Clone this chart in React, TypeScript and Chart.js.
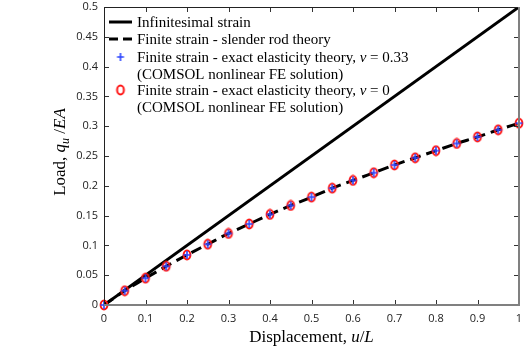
import React, { useEffect, useRef } from "react";
import { Chart, registerables } from "chart.js";
Chart.register(...registerables);

const displacement = [0, 0.05, 0.1, 0.15, 0.2, 0.25, 0.3, 0.35, 0.4, 0.45, 0.5, 0.55, 0.6, 0.65, 0.7, 0.75, 0.8, 0.85, 0.9, 0.95, 1.0];
const slenderRod = [0, 0.024, 0.045, 0.065, 0.084, 0.102, 0.12, 0.136, 0.152, 0.167, 0.181, 0.196, 0.209, 0.222, 0.235, 0.247, 0.259, 0.271, 0.282, 0.294, 0.305];
const comsolNu033 = [0, 0.024, 0.045, 0.065, 0.084, 0.102, 0.12, 0.136, 0.152, 0.167, 0.181, 0.196, 0.209, 0.222, 0.235, 0.247, 0.259, 0.271, 0.282, 0.294, 0.305];
const comsolNu0 = [0, 0.024, 0.045, 0.065, 0.084, 0.102, 0.12, 0.136, 0.152, 0.167, 0.181, 0.196, 0.209, 0.222, 0.235, 0.247, 0.259, 0.271, 0.282, 0.294, 0.305];
const infinitesimalX = [0, 1];
const infinitesimalY = [0, 0.5];

const xTickValues = [0, 0.1, 0.2, 0.3, 0.4, 0.5, 0.6, 0.7, 0.8, 0.9, 1];
const xTickLabels = ["0", "0.1", "0.2", "0.3", "0.4", "0.5", "0.6", "0.7", "0.8", "0.9", "1"];
const yTickValues = [0, 0.05, 0.1, 0.15, 0.2, 0.25, 0.3, 0.35, 0.4, 0.45, 0.5];
const yTickLabels = ["0", "0.05", "0.1", "0.15", "0.2", "0.25", "0.3", "0.35", "0.4", "0.45", "0.5"];

const legendLines = [
  "Infinitesimal strain",
  "Finite strain - slender rod theory",
  "Finite strain - exact elasticity theory, ",
  "(COMSOL nonlinear FE solution)",
  "Finite strain - exact elasticity theory, ",
  "(COMSOL nonlinear FE solution)",
];
const legendNu = ["", "", " = 0.33", "", " = 0", ""];

const SERIF = '"Liberation Serif", "Times New Roman", serif';
const SANS = '"Open Sans", "Noto Sans", sans-serif';
const BLUE = "rgb(45,70,255)";
const RED = "rgb(255,20,20)";

function makeCircle() {
  const c = document.createElement("canvas");
  c.width = 12; c.height = 12;
  const g = c.getContext("2d")!;
  g.strokeStyle = RED; g.lineWidth = 2;
  g.beginPath(); g.ellipse(6, 6, 3.4, 4.4, 0, 0, Math.PI * 2); g.stroke();
  return c;
}
function makeCross() {
  const c = document.createElement("canvas");
  c.width = 12; c.height = 12;
  const g = c.getContext("2d")!;
  g.strokeStyle = BLUE; g.lineWidth = 1.6;
  g.beginPath(); g.moveTo(2.5, 6); g.lineTo(9.5, 6); g.moveTo(6, 2); g.lineTo(6, 10); g.stroke();
  return c;
}

function drawRich(ctx: CanvasRenderingContext2D, parts: { t: string; f: string; dy?: number }[], x: number, y: number, align: "left" | "center") {
  let w = 0;
  for (const p of parts) { ctx.font = p.f; w += ctx.measureText(p.t).width; }
  let cx = align === "center" ? x - w / 2 : x;
  for (const p of parts) {
    ctx.font = p.f;
    ctx.fillText(p.t, cx, y + (p.dy || 0));
    cx += ctx.measureText(p.t).width;
  }
}

const zeroPad = (s: any) => { s.paddingTop = 0; s.paddingBottom = 0; s.paddingLeft = 0; s.paddingRight = 0; };

export default function App() {
  const ref = useRef<HTMLCanvasElement>(null);
  useEffect(() => {
    const circle = makeCircle();
    const cross = makeCross();
    const framePlugin = {
      id: "frame",
      afterDraw(chart: any) {
        const ctx: CanvasRenderingContext2D = chart.ctx;
        const a = chart.chartArea;
        const xs = chart.scales.x, ys = chart.scales.y;
        ctx.save();
        // inward ticks
        ctx.strokeStyle = "#333"; ctx.lineWidth = 1;
        ctx.beginPath();
        for (const v of xTickValues) {
          const px = Math.round(xs.getPixelForValue(v)) + 0.5;
          ctx.moveTo(px, a.bottom); ctx.lineTo(px, a.bottom - 5);
          ctx.moveTo(px, a.top); ctx.lineTo(px, a.top + 5);
        }
        for (const v of yTickValues) {
          const py = Math.round(ys.getPixelForValue(v)) + 0.5;
          ctx.moveTo(a.left, py); ctx.lineTo(a.left + 5, py);
          ctx.moveTo(a.right, py); ctx.lineTo(a.right - 5, py);
        }
        ctx.stroke();
        // frame
        ctx.strokeStyle = "#222"; ctx.lineWidth = 1;
        ctx.beginPath();
        ctx.moveTo(a.left + 0.5, a.bottom); ctx.lineTo(a.left + 0.5, a.top + 0.5); ctx.lineTo(a.right, a.top + 0.5);
        ctx.stroke();
        ctx.strokeStyle = "#808080"; ctx.lineWidth = 2;
        ctx.beginPath();
        ctx.moveTo(a.left, a.bottom); ctx.lineTo(a.right, a.bottom); ctx.lineTo(a.right, a.top);
        ctx.stroke();

        // legend
        ctx.fillStyle = "#000";
        ctx.textBaseline = "middle";
        const lx0 = a.left + 5, lx1 = a.left + 28, tx = a.left + 33;
        const rows = [22, 39, 57, 74, 90, 107];
        ctx.strokeStyle = "#000"; ctx.lineWidth = 3;
        ctx.beginPath(); ctx.moveTo(lx0, rows[0]); ctx.lineTo(lx1, rows[0]); ctx.stroke();
        ctx.setLineDash([9, 5]);
        ctx.beginPath(); ctx.moveTo(lx0, rows[1]); ctx.lineTo(lx1, rows[1]); ctx.stroke();
        ctx.setLineDash([]);
        ctx.drawImage(cross, (lx0 + lx1) / 2 - 6, rows[2] - 6);
        ctx.drawImage(circle, (lx0 + lx1) / 2 - 6, rows[4] - 6);
        const lf = `15px ${SERIF}`;
        const lfi = `italic 15px ${SERIF}`;
        legendLines.forEach((t, i) => {
          const parts = [{ t, f: lf }];
          if (legendNu[i]) { parts.push({ t: "ν", f: lfi }); parts.push({ t: legendNu[i], f: lf }); }
          drawRich(ctx, parts, tx, rows[i] + 1, "left");
        });

        // x title
        ctx.textBaseline = "alphabetic";
        drawRich(ctx, [
          { t: "Displacement, ", f: `17px ${SERIF}` },
          { t: "u", f: `italic 17px ${SERIF}` },
          { t: "/", f: `17px ${SERIF}` },
          { t: "L", f: `italic 17px ${SERIF}` },
        ], (a.left + a.right) / 2, 342, "center");

        // y title
        ctx.save();
        ctx.translate(65, 152);
        ctx.rotate(-Math.PI / 2);
        drawRich(ctx, [
          { t: "Load, ", f: `17px ${SERIF}` },
          { t: "q", f: `italic 17px ${SERIF}` },
          { t: "u", f: `italic 12px ${SERIF}`, dy: 4 },
          { t: " /", f: `17px ${SERIF}` },
          { t: "EA", f: `italic 17px ${SERIF}` },
        ], 0, 0, "center");
        ctx.restore();
        ctx.restore();
      },
    };

    const chart = new Chart(ref.current!, {
      type: "line",
      data: {
        datasets: [
          {
            label: "cross",
            data: displacement.map((x, i) => ({ x, y: comsolNu033[i] })),
            showLine: false,
            pointStyle: cross as any,
            pointRadius: 6,
            clip: false as any,
          },
          {
            label: "circle",
            data: displacement.map((x, i) => ({ x, y: comsolNu0[i] })),
            showLine: false,
            pointStyle: circle as any,
            pointRadius: 6,
            clip: false as any,
          },
          {
            label: "slender",
            data: displacement.map((x, i) => ({ x, y: slenderRod[i] })),
            borderColor: "#000",
            borderWidth: 3,
            borderDash: [11, 6],
            pointRadius: 0,
            cubicInterpolationMode: "monotone",
          },
          {
            label: "inf",
            data: infinitesimalX.map((x, i) => ({ x, y: infinitesimalY[i] })),
            borderColor: "#000",
            borderWidth: 3,
            pointRadius: 0,
          },
        ],
      },
      options: {
        animation: false,
        responsive: false,
        devicePixelRatio: 1,
        layout: { padding: { top: 7, right: 5, left: 0, bottom: 0 } },
        plugins: { legend: { display: false }, tooltip: { enabled: false } },
        scales: {
          x: {
            type: "linear",
            min: 0,
            max: 1,
            grid: { display: false, drawTicks: false },
            border: { display: false },
            afterBuildTicks: (s: any) => { s.ticks = xTickValues.map((v) => ({ value: v })); },
            afterFit: (s: any) => { s.height = 43; zeroPad(s); },
            ticks: {
              padding: 7,
              maxRotation: 0,
              autoSkip: false,
              color: "#222",
              font: { family: SANS, size: 11 },
              callback: (_v: any, i: number) => xTickLabels[i],
            },
          },
          y: {
            type: "linear",
            min: 0,
            max: 0.5,
            grid: { display: false, drawTicks: false },
            border: { display: false },
            afterBuildTicks: (s: any) => { s.ticks = yTickValues.map((v) => ({ value: v })); },
            afterFit: (s: any) => { s.width = 104; zeroPad(s); },
            ticks: {
              padding: 6,
              autoSkip: false,
              color: "#222",
              font: { family: SANS, size: 11 },
              callback: (_v: any, i: number) => yTickLabels[i],
            },
          },
        },
      },
      plugins: [framePlugin],
    });
    return () => chart.destroy();
  }, []);
  return (
    <div style={{ position: "absolute", left: 0, top: 0, width: 526, height: 348 }}>
      <canvas ref={ref} width={526} height={348} style={{ display: "block" }} />
    </div>
  );
}
